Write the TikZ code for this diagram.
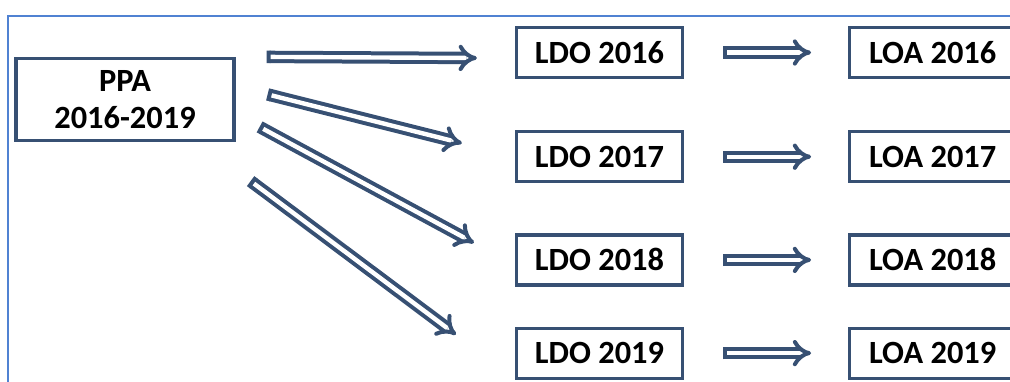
\documentclass[tikz,border=0pt]{standalone}
\usepackage{fontspec}
\setmainfont{Carlito}
\usepackage{tikz}
\usetikzlibrary{positioning}
\usetikzlibrary{arrows.meta}
\definecolor{boxblue}{RGB}{55,80,115}
\definecolor{frameblue}{RGB}{80,130,210}

\begin{document}
\begin{tikzpicture}[x=0.5pt, y=-0.5pt, node distance=25.5pt,
  box/.style={draw=boxblue, line width=1.6pt, minimum width=83pt, minimum height=25pt,
    inner sep=0pt, font=\fontsize{16.2}{18.5}\selectfont\bfseries},
  dblarrow/.style={draw=boxblue, line width=2pt, double=white, double distance=2.2pt,
    {Bar[width=6.2pt]}-{Implies[scale=1.15]}}]
\clip (0,0) rectangle (1010,381);
\draw [frameblue, line width=0.9pt] (8,400) -- (8,16) -- (1020,16);

\node [box, minimum width=109pt, minimum height=41pt, align=center] (ppa) at (125,99.5) {PPA\\2016-2019};
\node [box] (ldo16) at (599.5,52.5) {LDO 2016};
\node [box, below=of ldo16] (ldo17) {LDO 2017};
\node [box, node distance=25pt, below=of ldo17] (ldo18) {LDO 2018};
\node [box, node distance=20pt, below=of ldo18] (ldo19) {LDO 2019};
\node [box, node distance=82pt, right=of ldo16] (loa16) {LOA 2016};
\node [box, node distance=82pt, right=of ldo17] (loa17) {LOA 2017};
\node [box, node distance=82pt, right=of ldo18] (loa18) {LOA 2018};
\node [box, node distance=82pt, right=of ldo19] (loa19) {LOA 2019};

% ends of the arrows leaving the PPA box
\coordinate (s16) at ([xshift=15.5pt] ppa.north east);
\coordinate (s17) at ([xshift=16pt, yshift=-18.75pt] ppa.north east);
\coordinate (s18) at ([xshift=12pt, yshift=-35pt] ppa.north east);
\coordinate (s19) at ([xshift=7.5pt, yshift=-19.5pt] ppa.south east);
\coordinate (e16) at ([xshift=-19pt, yshift=-2.75pt] ldo16.west);
\coordinate (e17) at ([xshift=-26.5pt, yshift=6.75pt] ldo17.west);
\coordinate (e18) at ([xshift=-20.5pt, yshift=8.5pt] ldo18.west);
\coordinate (e19) at ([xshift=-29.5pt, yshift=9.25pt] ldo19.west);

\foreach \y in {16,17,18,19} {
  \draw [dblarrow] (s\y) -- (e\y);
  \draw [dblarrow, shorten <=19.5pt, shorten >=18.5pt] (ldo\y) -- (loa\y);
}
\end{tikzpicture}
\end{document}
